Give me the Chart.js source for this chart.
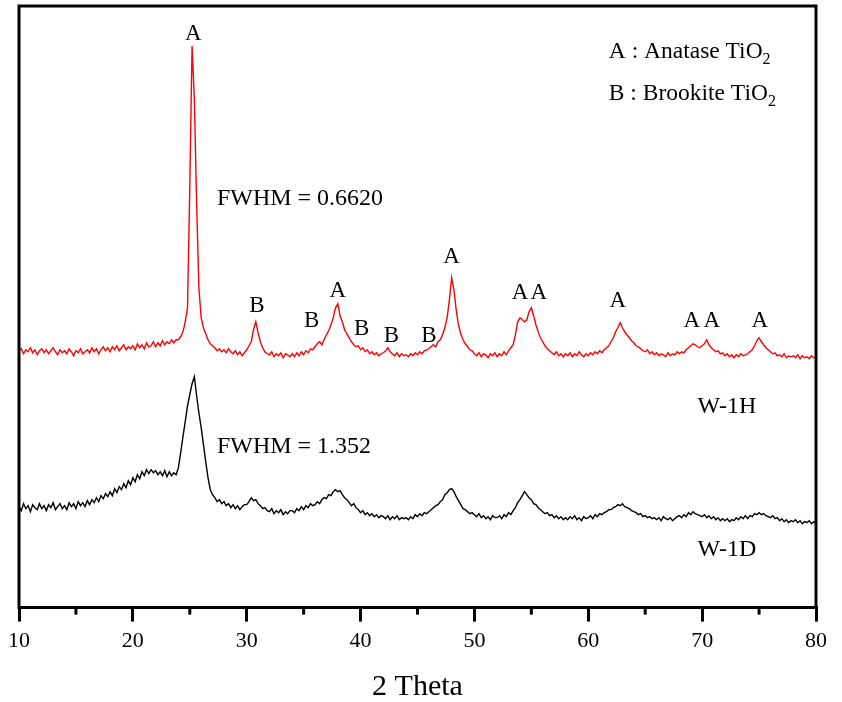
<!DOCTYPE html>
<html><head><meta charset="utf-8">
<script src="https://cdn.jsdelivr.net/npm/chart.js@4.4.0/dist/chart.umd.min.js"></script>
<style>html,body{margin:0;padding:0;background:#fff}#wrap{width:842px;height:702px}</style>
</head><body><div id="wrap"><canvas id="c" width="842" height="702"></canvas></div>
<script>
// 2θ sampling grid: 10.0 → 80.0, step 0.2
const twoTheta = [];
for (let i = 0; i <= 350; i++) twoTheta.push(Math.round((10 + i * 0.2) * 10) / 10);

// W-1H intensity (a.u.)
const w1H = [
257,259,254,258,256,260,255,258,253,257,
259,255,258,254,257,260,256,253,258,255,
257,254,259,256,252,257,255,259,254,256,
258,255,260,256,259,254,258,261,257,260,
256,261,258,262,257,260,263,258,261,259,
262,258,264,260,263,259,265,261,262,266,
261,265,262,267,263,266,264,268,265,268,
268,271,276,286,300,420,562,510,405,320,
290,280,274,268,264,262,260,257,259,256,
258,255,259,256,254,257,253,256,252,255,
258,262,266,278,286,275,266,260,256,254,
253,256,251,254,252,255,250,254,253,251,
254,251,255,252,256,253,257,255,259,258,
261,264,266,263,268,273,277,283,290,300,
304,292,286,278,274,270,266,263,261,262,
258,260,256,258,254,256,253,255,252,254,
255,257,260,256,254,252,255,251,254,252,
253,251,254,252,255,253,256,254,257,258,
259,261,263,261,266,268,273,280,290,308,
330,318,298,283,274,268,264,261,258,257,
254,252,255,251,254,253,250,254,252,255,
251,254,252,256,253,257,260,263,273,286,
290,288,286,288,296,300,292,283,276,270,
266,262,259,257,255,253,256,252,254,251,
254,252,255,251,254,252,256,253,251,254,
252,255,253,256,254,257,255,258,260,262,
266,270,276,280,285,280,276,273,270,267,
265,262,261,259,257,256,258,254,256,253,
255,252,254,253,251,255,252,254,253,256,
254,256,255,258,260,262,264,263,261,260,
262,264,268,263,260,258,256,257,254,255,
252,254,251,253,250,253,251,254,252,253,
254,256,258,262,267,270,266,263,260,258,
256,254,255,252,253,251,254,250,252,251,
252,250,253,249,252,250,251,249,252,250,
251];

// W-1D intensity (a.u.)
const w1D = [
101,97,104,99,102,96,103,100,98,104,
99,102,97,103,100,105,98,101,104,99,
102,98,105,101,104,99,106,102,105,101,
107,103,108,105,110,106,112,109,114,111,
116,112,119,115,121,118,124,120,127,123,
130,126,133,129,136,132,138,134,138,135,
137,133,136,132,137,131,136,132,135,133,
140,155,171,186,202,213,224,231,212,195,
180,163,146,130,118,113,110,106,108,104,
106,102,104,100,103,99,102,98,101,103,
103,106,110,107,108,104,102,99,100,97,
96,99,94,97,95,98,93,96,94,97,
97,95,99,97,101,98,102,100,104,102,
103,106,104,108,110,109,113,112,116,118,
116,117,113,110,108,105,102,104,100,98,
95,97,93,95,92,94,91,93,90,92,
91,89,92,88,91,89,92,88,90,89,
90,88,91,89,93,91,94,92,95,94,
96,98,100,102,103,106,108,113,115,118,
119,116,111,107,103,99,98,96,94,95,
93,91,94,90,92,89,91,88,92,90,
90,92,89,93,91,95,93,97,100,105,
108,112,116,113,110,108,104,103,100,98,
96,94,95,92,93,90,92,89,91,88,
90,88,91,89,92,88,90,87,91,89,
90,92,89,93,91,94,93,95,96,98,
98,100,101,103,102,104,101,100,99,97,
96,95,93,94,91,92,90,91,89,90,
88,90,87,91,89,88,90,87,89,91,
92,90,93,91,95,93,96,94,93,92,
91,93,90,92,89,91,88,90,87,89,
87,89,86,88,87,90,88,91,89,92,
89,92,91,94,93,95,93,94,92,91,
90,92,89,90,87,89,86,88,85,87,
86,88,85,87,84,86,85,87,84,86,
84];

const majorTicks = [10, 20, 30, 40, 50, 60, 70, 80];
const minorTicks = [15, 25, 35, 45, 55, 65, 75];

// Peak labels (phase letter at 2θ, intensity)
const peakLabelText = ['A','B','B','A','B','B','B','A','A','A','A','A','A','A'];
const peakLabelX    = [25.3,30.9,35.7,38.0,40.1,42.7,46.0,48.0,54.0,55.65,62.6,69.1,70.85,75.06];
const peakLabelY    = [576,303,288,318,280,273,273,352,316,316,308,288,288,288];

const SERIF = '"Liberation Serif","Times New Roman",Times,serif';

const toPts = ys => ys.map((v, i) => ({ x: twoTheta[i], y: v }));

// draw text vertically centred on its capitals
function capText(ctx, s, px, py, size) {
  ctx.font = size + 'px ' + SERIF;
  ctx.textBaseline = 'alphabetic';
  ctx.fillText(s, px, py + 0.331 * size);
}

const overlay = {
  id: 'overlay',
  afterDraw(chart) {
    const { ctx, chartArea: a, scales: { x, y } } = chart;
    ctx.save();
    ctx.strokeStyle = '#000';
    ctx.lineWidth = 3;
    ctx.lineCap = 'square';
    ctx.beginPath();
    ctx.moveTo(a.left, a.bottom); ctx.lineTo(a.left, a.top);
    ctx.lineTo(a.right, a.top); ctx.lineTo(a.right, a.bottom);
    ctx.stroke();
    ctx.lineCap = 'butt';
    minorTicks.forEach(t => {
      const px = x.getPixelForValue(t);
      ctx.beginPath(); ctx.moveTo(px, a.bottom); ctx.lineTo(px, a.bottom + 7); ctx.stroke();
    });
    ctx.fillStyle = '#000';
    ctx.textAlign = 'center';
    peakLabelText.forEach((t, i) => {
      capText(ctx, t, x.getPixelForValue(peakLabelX[i]), y.getPixelForValue(peakLabelY[i]), 23);
    });
    ctx.textAlign = 'left';
    capText(ctx, 'FWHM = 0.6620', x.getPixelForValue(27.38), y.getPixelForValue(411), 24);
    capText(ctx, 'FWHM = 1.352', x.getPixelForValue(27.38), y.getPixelForValue(163), 24);
    capText(ctx, 'W-1H', x.getPixelForValue(69.6), y.getPixelForValue(203), 24);
    capText(ctx, 'W-1D', x.getPixelForValue(69.6), y.getPixelForValue(60), 24);
    // phase key with subscripts
    const key = [['A : Anatase TiO', 558], ['B : Brookite TiO', 516]];
    key.forEach(([s, yv]) => {
      const px = x.getPixelForValue(61.8), py = y.getPixelForValue(yv);
      capText(ctx, s, px, py, 23.5);
      const w = ctx.measureText(s).width;
      capText(ctx, '2', px + w, py + 9, 16);
    });
    ctx.restore();
  }
};

new Chart(document.getElementById('c'), {
  type: 'line',
  data: {
    datasets: [
      { label: 'W-1H', data: toPts(w1H), borderColor: '#ff0000', borderWidth: 1.4, pointRadius: 0, tension: 0, fill: false },
      { label: 'W-1D', data: toPts(w1D), borderColor: '#000000', borderWidth: 1.4, pointRadius: 0, tension: 0, fill: false }
    ]
  },
  options: {
    responsive: false,
    devicePixelRatio: 1,
    animation: false,
    layout: { padding: { left: 19, right: 26, top: 6, bottom: 0 } },
    plugins: { legend: { display: false }, tooltip: { enabled: false } },
    scales: {
      x: {
        type: 'linear', min: 10, max: 80,
        afterBuildTicks: s => { s.ticks = majorTicks.map(v => ({ value: v })); },
        ticks: { color: '#000', font: { family: SERIF, size: 22 }, padding: 6, maxRotation: 0, autoSkip: false },
        grid: { display: true, drawOnChartArea: false, drawTicks: true, tickLength: 14, color: '#000', lineWidth: 3 },
        border: { display: true, color: '#000', width: 3 },
        title: { display: true, text: '2 Theta', color: '#000', font: { family: SERIF, size: 30, lineHeight: 1 }, padding: { top: 12, bottom: 0 } }
      },
      y: { type: 'linear', min: 0, max: 602, display: false }
    }
  },
  plugins: [overlay]
});
</script>
</body></html>
